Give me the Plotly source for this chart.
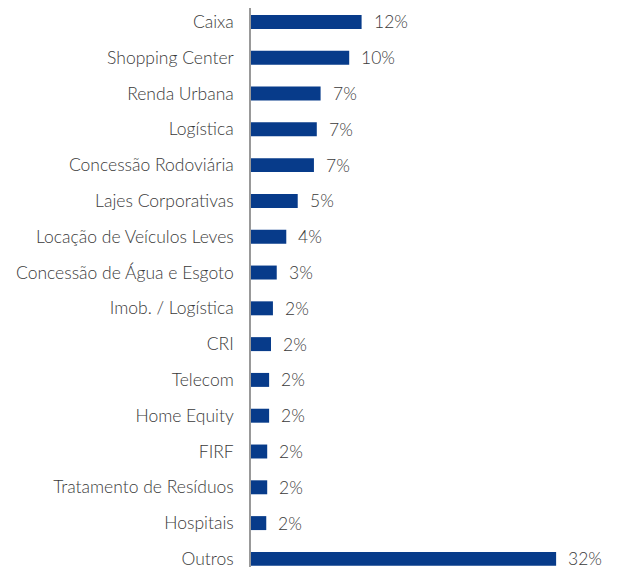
import plotly.graph_objects as go

categories = ["Caixa", "Shopping Center", "Renda Urbana", "Logística", "Concessão Rodoviária",
              "Lajes Corporativas", "Locação de Veículos Leves", "Concessão de Água e Esgoto",
              "Imob. / Logística", "CRI", "Telecom", "Home Equity", "FIRF",
              "Tratamento de Resíduos", "Hospitais", "Outros"]
values = [11.6, 10.3, 7.3, 6.9, 6.6, 4.9, 3.7, 2.7, 2.3, 2.1, 1.9, 1.9, 1.7, 1.7, 1.6, 32.0]
labels = ["12%", "10%", "7%", "7%", "7%", "5%", "4%", "3%", "2%", "2%", "2%", "2%", "2%", "2%", "2%", "32%"]

BAR = "#073b8a"
TXT = "#3a3a3a"
FONT = "Lato"
FS = 17.5

fig = go.Figure(go.Bar(
    x=values, y=categories, orientation="h",
    marker=dict(color=BAR, line=dict(width=0)),
    width=0.39, hoverinfo="skip",
))

for c, v, l in zip(categories, values, labels):
    fig.add_annotation(x=v, y=c, text=l, showarrow=False, xanchor="left", xshift=10,
                       font=dict(family=FONT, size=FS, color=TXT, weight=300))

fig.update_layout(
    width=622, height=567,
    margin=dict(l=243, r=10, t=0, b=0, autoexpand=False),
    paper_bgcolor="white", plot_bgcolor="white",
    showlegend=False,
    font=dict(family=FONT, size=FS, color=TXT, weight=300),
)
fig.update_xaxes(range=[0, 38.7], visible=False, fixedrange=True)
fig.update_yaxes(
    categoryorder="array", categoryarray=categories,
    range=[15.45, -0.39], showgrid=False, zeroline=False,
    showline=True, linecolor="#999999", linewidth=1.5,
    ticks="", ticklabelstandoff=12,
    tickfont=dict(family=FONT, size=FS, color=TXT, weight=300),
)

fig.write_html("out.html")
